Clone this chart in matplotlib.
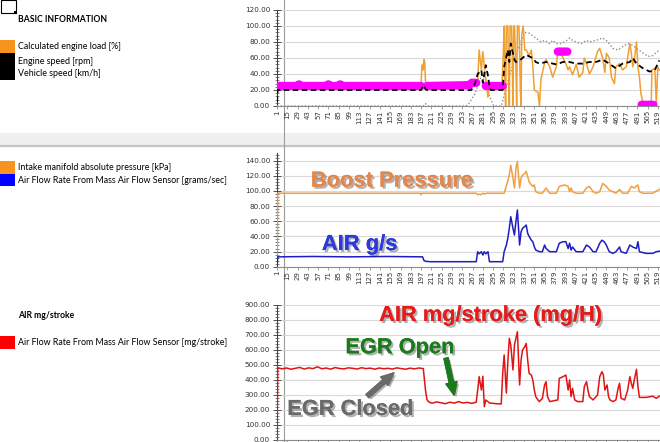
import numpy as np
import matplotlib
matplotlib.use('Agg')
import matplotlib.pyplot as plt
import matplotlib.patheffects as pe
from matplotlib.patches import Rectangle
from matplotlib.lines import Line2D
from matplotlib.ticker import MultipleLocator, FormatStrFormatter

# ---- category axis (sample number) ----
cat_ticks = list(range(1, 520, 14))

# ---- panel 1: basic information ----
load_idx = [1, 197, 198, 199, 200, 201, 202, 203, 204, 262,
            268, 274, 276, 279, 281, 284, 288, 290, 307, 309,
            310, 311, 312, 313, 315, 316, 317, 318, 320, 321,
            322, 323, 324, 326, 327, 328, 330, 331, 332, 333,
            334, 336, 338, 340, 344, 347, 349, 351, 356, 358,
            360, 365, 367, 372, 376, 381, 383, 387, 394, 397,
            399, 403, 408, 412, 417, 419, 422, 426, 431, 437,
            440, 444, 447, 449, 453, 456, 460, 462, 467, 471,
            476, 481, 483, 485, 487, 490, 492, 494, 496, 499,
            503, 510, 511, 515, 517, 519, 521]
load_val = [25, 25, 50, 52, 45, 58, 55, 30, 25, 25,
            29, 30, 70, 45, 68, 41, 11, 25, 25, 70,
            100, 30, 0, 100, 100, 40, 0, 100, 100, 60,
            0, 100, 100, 50, 0, 100, 100, 70, 20, 0,
            90, 100, 70, 70, 63, 70, 49, 20, 17, 0,
            33, 54, 58, 49, 36, 49, 70, 66, 53, 45,
            49, 39, 52, 36, 42, 60, 53, 40, 49, 68,
            72, 60, 42, 66, 60, 36, 28, 49, 53, 45,
            49, 78, 66, 49, 57, 80, 49, 36, 16, 3,
            1, 1, 45, 47, 3, 49, 45]

rpm_idx = [1, 2, 197, 199, 201, 203, 205, 265, 269, 274,
           279, 281, 285, 288, 290, 292, 308, 310, 315, 317,
           319, 324, 326, 331, 335, 340, 344, 349, 353, 358,
           367, 376, 381, 390, 399, 408, 417, 426, 435, 444,
           453, 462, 471, 481, 485, 490, 499, 508, 515, 521]
rpm_val = [5, 20, 20, 24, 26, 21, 20, 20, 24, 40,
           45, 29, 51, 38, 24, 20, 20, 49, 70, 55,
           78, 58, 55, 57, 60, 64, 62, 60, 55, 53,
           55, 53, 52, 55, 55, 53, 53, 55, 55, 58,
           53, 47, 53, 55, 60, 53, 47, 43, 45, 57]

kmh_idx = [1, 200, 203, 206, 258, 262, 270, 278, 283, 290,
           296, 306, 315, 325, 338, 344, 353, 360, 365, 372,
           376, 381, 387, 394, 399, 403, 408, 415, 422, 426,
           435, 444, 449, 453, 458, 465, 471, 478, 485, 490,
           499, 506, 512, 521]
kmh_val = [0, 0, 3, 0, 0, 3, 15, 35, 33, 12,
           0, 0, 30, 62, 92, 91, 85, 80, 82, 78,
           82, 78, 78, 81, 85, 82, 80, 78, 82, 80,
           82, 85, 82, 78, 72, 70, 74, 78, 76, 72,
           66, 62, 63, 70]

# highlighted (magenta) stretches
mag_idx = [1, 28, 31, 34, 68, 71, 74, 84, 87, 90, 197, np.nan,
           205, 262, 266, 272, np.nan, 285, 308, np.nan, 383, 396, np.nan, 497, 513]
mag_val = [25, 25, 27, 25, 25, 27, 25, 25, 27, 25, 25, np.nan,
           25, 26, 29, 29, np.nan, 25, 25, np.nan, 68, 68, np.nan, 1.5, 1.5]

# ---- panel 2: MAP and MAF ----
map_idx = [1, 2, 196, 197, 198, 272, 274, 276, 278, 281,
           284, 286, 310, 315, 317, 319, 322, 324, 326, 328,
           331, 333, 335, 338, 340, 342, 344, 347, 349, 351,
           353, 358, 362, 367, 372, 381, 385, 392, 397, 399,
           401, 403, 408, 417, 422, 426, 431, 435, 440, 444,
           449, 453, 458, 462, 467, 471, 478, 483, 487, 492,
           494, 499, 512, 521]
map_val = [0, 97, 97, 95, 97, 97, 95, 96, 95, 97,
           96, 97, 97, 113, 121, 134, 117, 104, 130, 139,
           104, 117, 121, 123, 126, 119, 112, 108, 106, 108,
           99, 97, 97, 104, 97, 97, 106, 108, 106, 99,
           104, 99, 97, 97, 104, 106, 99, 97, 99, 110,
           106, 101, 99, 97, 102, 97, 97, 106, 104, 108,
           99, 97, 97, 102]

maf_idx = [1, 2, 50, 100, 150, 199, 201, 204, 210, 272,
           274, 276, 279, 281, 283, 285, 288, 290, 308, 310,
           313, 315, 317, 319, 322, 324, 326, 328, 331, 333,
           335, 338, 340, 342, 344, 347, 349, 351, 353, 358,
           362, 365, 367, 372, 381, 385, 390, 394, 397, 399,
           401, 403, 408, 417, 422, 426, 431, 435, 440, 443,
           446, 449, 451, 453, 458, 462, 467, 469, 476, 481,
           485, 490, 492, 494, 503, 512, 517, 521]
maf_val = [0, 13, 13.5, 13, 13.5, 13, 8, 7, 6.6, 6.6,
           19.8, 17, 19.8, 15.4, 19.8, 17, 19.8, 6.6, 6.6, 19.8,
           28.6, 37.5, 50.7, 66, 50.7, 41.9, 59.4, 74.9, 28.6, 46,
           50.7, 53, 55, 44, 40, 35, 33, 26.4, 22, 19.8,
           19.8, 28.6, 24, 19.8, 19.8, 31, 33, 33, 24, 31,
           22, 26, 19.8, 19.8, 28.6, 26, 19.8, 19.8, 31, 35,
           33, 28.6, 24, 19.8, 17.6, 19.8, 26, 19.8, 17.6, 28.6,
           26, 24, 33, 19.8, 17.6, 17.6, 19.8, 20.5]

# ---- panel 3: air mass per stroke ----
mgs_idx = [1, 2, 8, 14, 20, 26, 32, 38, 44, 50,
           56, 62, 68, 74, 80, 86, 92, 98, 104, 110,
           116, 122, 128, 134, 140, 146, 152, 158, 164, 170,
           176, 182, 188, 194, 200, 203, 205, 208, 212, 218,
           224, 230, 236, 242, 248, 254, 260, 266, 272, 274,
           276, 279, 281, 283, 285, 290, 299, 306, 308, 310,
           313, 315, 317, 319, 322, 324, 326, 328, 331, 333,
           335, 338, 340, 342, 344, 347, 349, 351, 353, 356,
           358, 362, 365, 367, 369, 372, 383, 385, 390, 394,
           397, 399, 401, 403, 406, 410, 417, 419, 422, 424,
           426, 431, 437, 440, 443, 445, 447, 450, 452, 454,
           458, 462, 465, 467, 469, 474, 478, 481, 483, 485,
           487, 490, 492, 494, 503, 512, 517, 521]
mgs_val = [0, 480, 472, 478, 470, 476, 482, 471, 479, 474,
           486, 473, 478, 470, 481, 475, 472, 479, 476, 471,
           480, 474, 477, 470, 478, 473, 476, 471, 479, 474,
           470, 477, 472, 478, 474, 331, 266, 250, 243, 252,
           246, 240, 250, 244, 254, 245, 249, 242, 250, 331,
           420, 331, 423, 220, 265, 245, 240, 238, 442, 565,
           311, 520, 676, 631, 465, 631, 676, 720, 365, 531,
           598, 620, 642, 531, 442, 431, 398, 331, 287, 265,
           254, 276, 365, 387, 287, 254, 265, 409, 420, 431,
           331, 398, 287, 342, 265, 254, 254, 353, 387, 331,
           287, 265, 298, 420, 453, 431, 331, 365, 287, 265,
           254, 265, 342, 376, 276, 265, 331, 420, 376, 342,
           398, 469, 353, 282, 282, 290, 276, 290]

W, H = 660, 442
LEG_FONT = 'Lato'
BIG_FONT = 'Liberation Sans'
LEG_SIZE = 6.4
HEAD_SIZE = 6.2


def fx(x):
    return x / W


def fy(y):
    return 1 - y / H


def style_axis(ax, ymax, ystep, yminor):
    ax.set_facecolor('none')
    ax.set_xlim(1, 522)
    ax.set_ylim(0, ymax)
    ax.set_xticks(cat_ticks)
    ax.set_xticklabels([str(t) for t in cat_ticks], rotation=90,
                       fontsize=5, color='#333333', family='DejaVu Sans')
    ax.yaxis.set_major_locator(MultipleLocator(ystep))
    ax.yaxis.set_minor_locator(MultipleLocator(yminor))
    ax.yaxis.set_major_formatter(FormatStrFormatter('%.2f'))
    ax.tick_params(axis='y', which='major', direction='inout', length=6,
                   width=0.7, color='#505050', labelsize=5.2, labelcolor='#333333', pad=2)
    ax.tick_params(axis='y', which='minor', direction='inout', length=3,
                   width=0.5, color='#505050')
    ax.tick_params(axis='x', which='major', length=2, width=0.5,
                   color='#808080', pad=1)
    for lab in ax.get_yticklabels():
        lab.set_family('DejaVu Sans')
    ax.grid(axis='y', color='#D9D9D9', lw=0.8)
    ax.set_axisbelow(True)
    for s in ['top', 'right']:
        ax.spines[s].set_visible(False)
    ax.spines['left'].set_color('#404040')
    ax.spines['left'].set_linewidth(0.8)
    ax.spines['bottom'].set_color('#8C8C8C')
    ax.spines['bottom'].set_linewidth(0.8)


def shadow():
    return [pe.withSimplePatchShadow(offset=(1.5, -1.5), shadow_rgbFace='#000000', alpha=0.3),
            pe.Normal()]


fig = plt.figure(figsize=(W / 100, H / 100), dpi=100)

# sheet background elements
fig.add_artist(Rectangle((0, fy(145)), 1, (145 - 133) / H, transform=fig.transFigure,
                         facecolor='#F0F0F0', edgecolor='none', zorder=0))
fig.add_artist(Line2D([0, 1], [fy(146.5)] * 2, transform=fig.transFigure,
                      color='#C4C4C4', lw=1.6, zorder=0))
fig.add_artist(Line2D([fx(284)] * 2, [0, 1], transform=fig.transFigure,
                      color='#9A9A9A', lw=0.8, zorder=0))
fig.add_artist(Rectangle((fx(0.5), fy(12.5)), 15 / W, 12 / H, transform=fig.transFigure,
                         facecolor='white', edgecolor='black', lw=0.8, zorder=1))
fig.add_artist(Rectangle((fx(13.5), fy(14)), 3 / W, 3 / H, transform=fig.transFigure,
                         facecolor='black', edgecolor='none', zorder=1))

left = fx(277)
width = 1 - left

# ---- panel 1 ----
ax1 = fig.add_axes([left, fy(106), width, 96 / H])
style_axis(ax1, 120, 20, 4)
ax1.plot(kmh_idx, kmh_val, color='#8C8C8C', lw=1.0, ls=(0, (1, 1.5)), zorder=3)
ax1.plot(load_idx, load_val, color='#F0A030', lw=1.1, zorder=4)
ax1.plot(mag_idx, mag_val, color='#FF00FF', lw=6, solid_capstyle='round', zorder=5)
ax1.plot(rpm_idx, rpm_val, color='black', lw=1.3, ls=(0, (3, 2)), zorder=6)

fig.text(fx(18), fy(20), 'BASIC INFORMATION', fontsize=HEAD_SIZE, fontweight='bold',
         family=LEG_FONT, va='center')
legend1 = [('#F7941D', 'Calculated engine load [%]', 40, 46.7),
           ('black', 'Engine speed [rpm]', 53, 61),
           ('black', 'Vehicle speed [km/h]', 66.5, 73.3)]
for col, txt, top, yc in legend1:
    fig.add_artist(Rectangle((0, fy(top + 13.5)), 15.5 / W, 13.5 / H, transform=fig.transFigure,
                             facecolor=col, edgecolor='none'))
    fig.text(fx(18), fy(yc), txt, fontsize=LEG_SIZE, family=LEG_FONT, va='center')

# ---- panel 2 ----
ax2 = fig.add_axes([left, fy(266.7), width, 113.6 / H])
style_axis(ax2, 150, 20, 4)
ax2.plot(map_idx, map_val, color='#F0A040', lw=1.1, zorder=4)
ax2.plot(maf_idx, maf_val, color='#1E1EC0', lw=1.1, zorder=4)
ax2.text(47, 105.7, 'Boost Pressure', color='#E3884C', fontsize=15.8, fontweight='bold',
         family=BIG_FONT, va='baseline', path_effects=shadow(), zorder=7)
ax2.text(62, 22, 'AIR g/s', color='#2A38DC', fontsize=15.8, fontweight='bold',
         family=BIG_FONT, va='baseline', path_effects=shadow(), zorder=7)

legend2 = [('#F7941D', 'Intake manifold absolute pressure [kPa]', 161, 167.7),
           ('#0000FF', 'Air Flow Rate From Mass Air Flow Sensor [grams/sec]', 173.5, 180.7)]
for col, txt, top, yc in legend2:
    fig.add_artist(Rectangle((0, fy(top + 12.5)), 15.5 / W, 12.5 / H, transform=fig.transFigure,
                             facecolor=col, edgecolor='none'))
    fig.text(fx(18), fy(yc), txt, fontsize=LEG_SIZE, family=LEG_FONT, va='center')

# ---- panel 3 ----
ax3 = fig.add_axes([left, fy(439.7), width, 135 / H])
style_axis(ax3, 900, 100, 20)
ax3.tick_params(axis='x', labelbottom=False)   # category labels fall below the visible area
ax3.plot(mgs_idx, mgs_val, color='#E01414', lw=1.1, zorder=4)
ax3.text(140, 791, 'AIR mg/stroke (mg/H)', color='#E51C1C', fontsize=15.7, fontweight='bold',
         family=BIG_FONT, va='baseline', path_effects=shadow(), zorder=7)
ax3.text(94, 576, 'EGR Open', color='#1B7A1B', fontsize=15.7, fontweight='bold',
         family=BIG_FONT, va='baseline', path_effects=shadow(), zorder=7)
ax3.text(15, 165, 'EGR Closed', color='#6A6A6A', fontsize=15.7, fontweight='bold',
         family=BIG_FONT, va='baseline', path_effects=shadow(), zorder=7)
ax3.annotate('', xy=(242, 298), xytext=(231, 543),
             arrowprops=dict(arrowstyle='simple,head_length=0.9,head_width=0.8,tail_width=0.3',
                             color='#1B7A1B', mutation_scale=10, shrinkA=0, shrinkB=0,
                             path_effects=shadow()), zorder=7)
ax3.annotate('', xy=(160, 445), xytext=(124, 291),
             arrowprops=dict(arrowstyle='simple,head_length=0.9,head_width=0.8,tail_width=0.3',
                             color='#6A6A6A', mutation_scale=10, shrinkA=0, shrinkB=0,
                             path_effects=shadow()), zorder=7)

fig.text(fx(18), fy(315), 'AIR mg/stroke', fontsize=HEAD_SIZE, fontweight='bold',
         family=LEG_FONT, va='center')
fig.add_artist(Rectangle((0, fy(348.5)), 15.5 / W, 13 / H, transform=fig.transFigure,
                         facecolor='#FF0000', edgecolor='none'))
fig.text(fx(18), fy(342.3), 'Air Flow Rate From Mass Air Flow Sensor [mg/stroke]',
         fontsize=LEG_SIZE, family=LEG_FONT, va='center')

fig.savefig('out.png', dpi=100)
